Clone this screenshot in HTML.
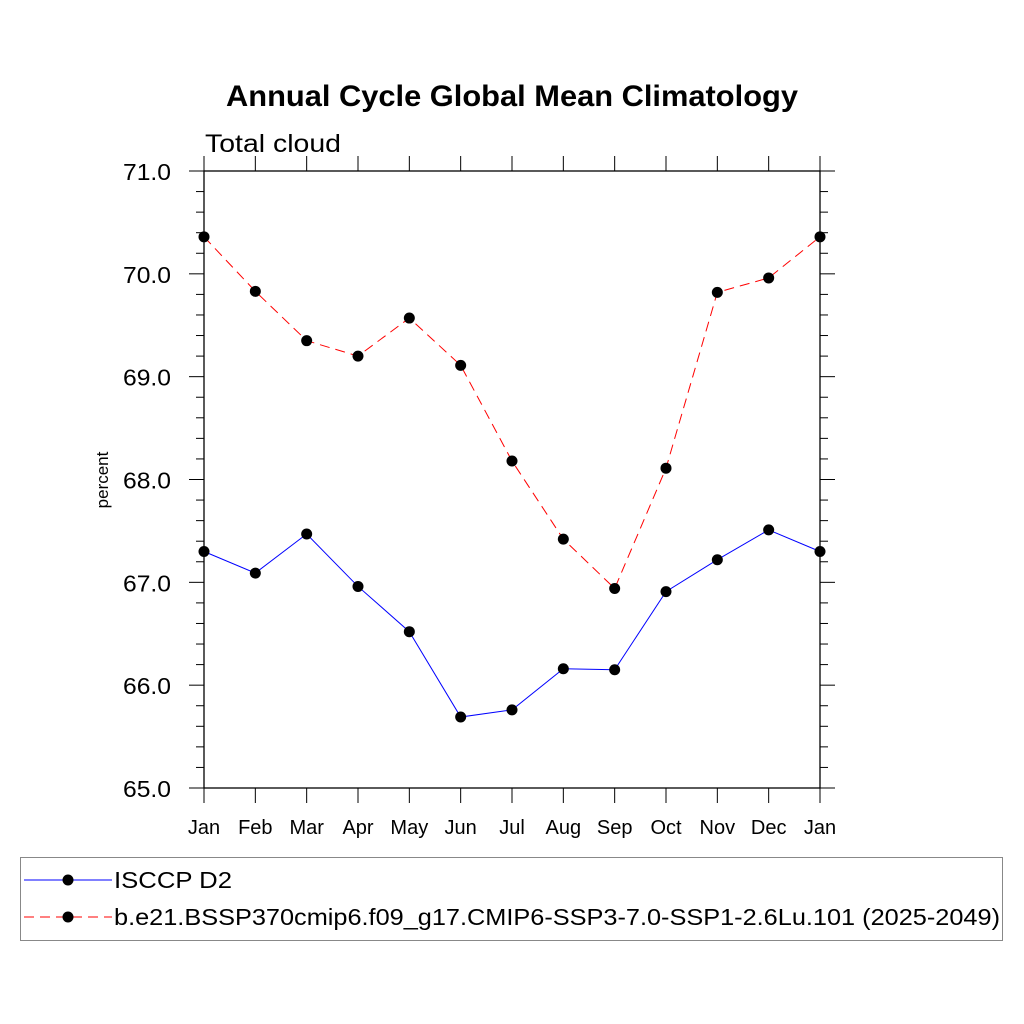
<!DOCTYPE html>
<html><head><meta charset="utf-8"><style>body{margin:0;background:#fff}svg{display:block}text{font-family:"Liberation Sans",sans-serif}</style></head>
<body>
<svg id="chart" width="1024" height="1024" xmlns="http://www.w3.org/2000/svg">
<rect width="1024" height="1024" fill="#fff"/>
<text x="226" y="106" font-size="30" font-weight="bold" textLength="572" lengthAdjust="spacingAndGlyphs">Annual Cycle Global Mean Climatology</text>
<text x="205" y="152" font-size="25" textLength="136" lengthAdjust="spacingAndGlyphs">Total cloud</text>
<text transform="translate(108,480) rotate(-90)" font-size="17" text-anchor="middle">percent</text>
<g id="axes"></g>
<g id="series"></g>
<g>
<rect x="20.5" y="857.5" width="982" height="83" fill="none" stroke="#888" stroke-width="1"/>
<line x1="24" y1="880" x2="112" y2="880" stroke="#00f" stroke-width="1"/>
<circle cx="68" cy="880" r="5.5" fill="#000"/>
<text x="114" y="888" font-size="23" textLength="118" lengthAdjust="spacingAndGlyphs">ISCCP D2</text>
<line x1="24" y1="917" x2="112" y2="917" stroke="#f00" stroke-width="1" stroke-dasharray="10,6"/>
<circle cx="68" cy="917" r="5.5" fill="#000"/>
<text x="114" y="925" font-size="23" textLength="886" lengthAdjust="spacingAndGlyphs">b.e21.BSSP370cmip6.f09_g17.CMIP6-SSP3-7.0-SSP1-2.6Lu.101 (2025-2049)</text>
</g>
</svg>
<script>
const months=["Jan","Feb","Mar","Apr","May","Jun","Jul","Aug","Sep","Oct","Nov","Dec","Jan"];
const isccp=[67.30,67.09,67.47,66.96,66.52,65.69,65.76,66.16,66.15,66.91,67.22,67.51,67.30];
const model=[70.36,69.83,69.35,69.20,69.57,69.11,68.18,67.42,66.94,68.11,69.82,69.96,70.36];
const yTicks=[65,66,67,68,69,70,71];
const NS="http://www.w3.org/2000/svg";
const L=204,R=820,T=171,B=788,yMin=65,yMax=71;
const xs=i=>L+(R-L)*i/12;
const ys=v=>B-(B-T)*(v-yMin)/(yMax-yMin);
function mk(tag,attrs,parent){const e=document.createElementNS(NS,tag);for(const k in attrs)e.setAttribute(k,attrs[k]);parent.appendChild(e);return e;}
const ax=document.getElementById('axes');
const frame=mk('rect',{x:L,y:T,width:R-L,height:B-T,fill:'none',stroke:'#000','stroke-width':1.3},ax);


for(let v=yMin;v<=yMax+1e-6;v+=0.2){
  const y=ys(v);const major=Math.abs(v-Math.round(v))<1e-6;const len=major?15:8;
  mk('line',{x1:L-len,y1:y,x2:L,y2:y,stroke:'#000','stroke-width':1},ax);
  mk('line',{x1:R,y1:y,x2:R+len,y2:y,stroke:'#000','stroke-width':1},ax);
}
yTicks.forEach(v=>{
  const t=mk('text',{x:L-33,y:ys(v)+9,'font-size':23,'text-anchor':'end',textLength:48,lengthAdjust:'spacingAndGlyphs'},ax);
  t.textContent=v.toFixed(1);
  
  
});
months.forEach((m,i)=>{
  const x=xs(i);
  mk('line',{x1:x,y1:B,x2:x,y2:B+15,stroke:'#000','stroke-width':1},ax);
  mk('line',{x1:x,y1:T-15,x2:x,y2:T,stroke:'#000','stroke-width':1},ax);
  const t=mk('text',{x:x,y:834,'font-size':20,'text-anchor':'middle'},ax);
  t.textContent=m;
  
  
});
const sg=document.getElementById('series');
function draw(vals,color,dash,name){
  const p=mk('polyline',{points:vals.map((v,i)=>xs(i)+','+ys(v)).join(' '),fill:'none',stroke:color,'stroke-width':1,'stroke-dasharray':dash},sg);
  
  
  vals.forEach((v,i)=>{
    const c=mk('circle',{cx:xs(i),cy:ys(v),r:5.5,fill:'#000'},sg);
    
    
  });
}
draw(model,'#f00','10,6','model');
draw(isccp,'#00f','none','isccp');
</script>
</body></html>
